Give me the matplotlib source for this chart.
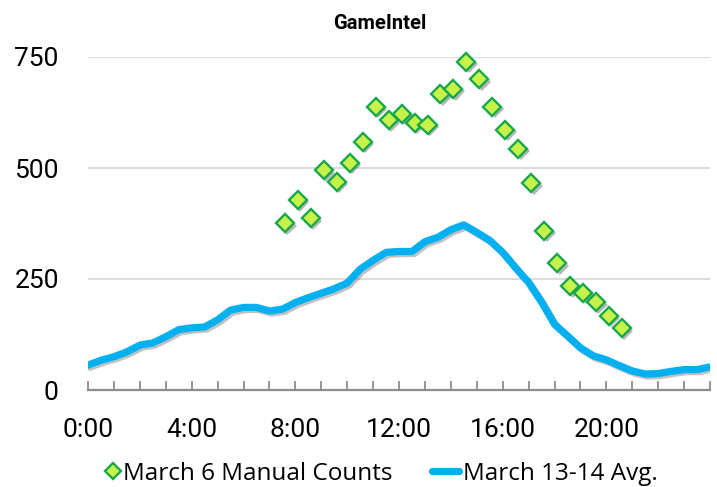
import matplotlib
matplotlib.use("Agg")
import numpy as np
import matplotlib.pyplot as plt
import matplotlib.patheffects as pe
from matplotlib.legend_handler import HandlerLine2D
from matplotlib.ticker import MultipleLocator, FuncFormatter

# manual counts taken on March 6 (clock time, players)
manual_times = ["7:36", "8:06", "8:36", "9:06", "9:36", "10:06", "10:36", "11:06", "11:36",
                "12:06", "12:36", "13:06", "13:36", "14:06", "14:36", "15:06", "15:36",
                "16:06", "16:36", "17:06", "17:36", "18:06", "18:36", "19:06", "19:36",
                "20:06", "20:36"]
manual_counts = [376, 428, 387, 495, 469, 512, 559, 638, 608, 622, 602, 597, 666, 678,
                 739, 700, 638, 586, 543, 466, 359, 285, 234, 219, 198, 167, 139]

# March 13-14 average, every half hour from 0:00 to 24:00
avg_hours = np.arange(0, 24.5, 0.5)
avg_counts = [56, 67, 75, 86, 101, 106, 120, 136, 140, 142, 158, 180, 186, 186, 178, 182,
              197, 208, 218, 228, 241, 272, 292, 310, 312, 312, 334, 344, 361, 372, 355, 337,
              310, 275, 242, 198, 148, 122, 95, 77, 68, 55, 43, 36, 37, 42, 46, 46, 52]

y_ticks = [0, 250, 500, 750]

GREEN_FILL = "#C8F24A"
GREEN_EDGE = "#16A84A"
BLUE = "#00B0F0"
AXIS_GRAY = "#8C8C8C"


def to_hours(t):
    h, m = t.split(":")
    return int(h) + int(m) / 60.0


class RightMarkerHandler(HandlerLine2D):
    # puts the single legend marker at the right end of its handle box, next to the text
    def get_xdata(self, legend, xdescent, ydescent, width, height, fontsize):
        x = width - xdescent - 4
        return [x, x], [x]


plt.rcParams["font.family"] = ["Roboto", "DejaVu Sans"]

fig = plt.figure(figsize=(7.17, 4.87), dpi=100)
ax = fig.add_axes([88 / 717, 97 / 487, 622 / 717, 333 / 487])

manual_x = [to_hours(t) for t in manual_times]

line, = ax.plot(avg_hours, avg_counts, color=BLUE, lw=5.2, solid_capstyle="round",
                solid_joinstyle="round", label="March 13-14 Avg.", zorder=3)
line.set_path_effects([pe.SimpleLineShadow(offset=(1.5, -1.5), shadow_color="0.2", alpha=0.3),
                       pe.Normal()])

pts, = ax.plot(manual_x, manual_counts, linestyle="none", marker="D", ms=9.2,
               mfc=GREEN_FILL, mec=GREEN_EDGE, mew=1.7, label="March 6 Manual Counts",
               zorder=4, clip_on=False)
pts.set_path_effects([pe.SimplePatchShadow(offset=(1.8, -1.8), shadow_rgbFace="0.2", alpha=0.35),
                      pe.Normal()])

ax.set_xlim(0, 24)
ax.set_ylim(0, 750)
ax.set_yticks(y_ticks)
ax.xaxis.set_major_locator(MultipleLocator(1))
ax.xaxis.set_major_formatter(FuncFormatter(lambda v, p: "%d:00" % v if int(v) % 4 == 0 and v < 24 else ""))

for side in ["top", "left", "right"]:
    ax.spines[side].set_visible(False)
ax.spines["bottom"].set_color(AXIS_GRAY)
ax.spines["bottom"].set_linewidth(1.6)
ax.spines["bottom"].set_zorder(2.5)

ax.tick_params(axis="x", direction="in", length=6.5, width=1.3, color=AXIS_GRAY,
               labelsize=19, pad=20)
ax.tick_params(axis="y", length=0, labelsize=19, pad=21)
ax.yaxis.grid(True, color="#DCDCDC", lw=1.4)
ax.set_axisbelow(True)

fig.text(380 / 717, 1 - 29 / 487, "GameIntel", ha="center", va="baseline",
         fontsize=14.5, fontweight="bold")

leg = fig.legend(handles=[pts, line], loc="center", ncol=2,
                 bbox_to_anchor=(375 / 717, 1 - 474 / 487), frameon=False,
                 prop={"family": ["Open Sans", "DejaVu Sans"], "size": 17.5},
                 handlelength=1.1, handletextpad=0.2, columnspacing=1.6,
                 borderpad=0, borderaxespad=0,
                 handler_map={pts: RightMarkerHandler()})
for h in leg.legend_handles:
    h.set_path_effects([])
leg.legend_handles[0].set_markersize(8)

fig.savefig("out.png", dpi=100)
